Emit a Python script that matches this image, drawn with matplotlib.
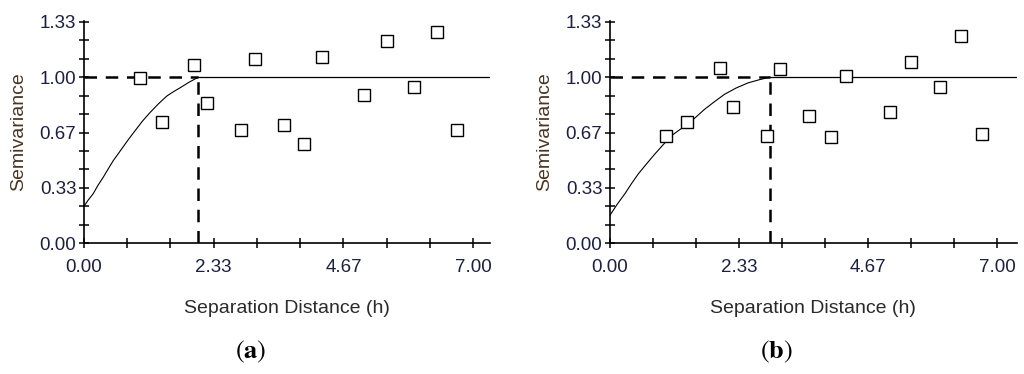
import numpy as np
import matplotlib
matplotlib.use("Agg")
import matplotlib.pyplot as plt
from matplotlib.ticker import FixedLocator

plt.rcParams['font.family'] = ['Liberation Sans', 'DejaVu Sans']
plt.rcParams['mathtext.fontset'] = 'stix'

# panel (a) data
a_h = [1.00, 1.41, 1.97, 2.21, 2.83, 3.07, 3.60, 3.96, 4.28, 5.03, 5.45, 5.93, 6.34, 6.70]
a_g = [0.997, 0.728, 1.071, 0.842, 0.682, 1.111, 0.712, 0.598, 1.119, 0.891, 1.216, 0.941, 1.274, 0.680]
a_curve_h = [0.0, 0.08, 0.167, 0.25, 0.347, 0.44, 0.527, 0.62, 0.707, 0.81, 0.917, 1.05,
             1.187, 1.34, 1.487, 1.61, 1.727, 1.89, 2.056]
a_curve_g = [0.223, 0.262, 0.299, 0.348, 0.398, 0.450, 0.498, 0.541, 0.582, 0.630, 0.677, 0.735,
             0.787, 0.840, 0.886, 0.913, 0.936, 0.970, 1.0]
a_range = 2.056
a_xmax = 7.31

# panel (b) data
b_h = [1.005, 1.40, 1.99, 2.23, 2.84, 3.08, 3.59, 3.99, 4.27, 5.06, 5.45, 5.96, 6.35, 6.72]
b_g = [0.645, 0.730, 1.056, 0.822, 0.649, 1.052, 0.766, 0.643, 1.008, 0.790, 1.092, 0.943, 1.250, 0.661]
b_curve_h = [0.0, 0.13, 0.271, 0.39, 0.512, 0.66, 0.812, 0.96, 1.108, 1.26, 1.41, 1.56,
             1.71, 1.89, 2.07, 2.28, 2.497, 2.70, 2.888]
b_curve_g = [0.169, 0.235, 0.299, 0.360, 0.418, 0.478, 0.538, 0.593, 0.647, 0.684, 0.717, 0.762,
             0.807, 0.853, 0.897, 0.935, 0.966, 0.985, 1.0]
b_range = 2.888
b_xmax = 7.35

sill = 1.0
xlabels = ['0.00', '2.33', '4.67', '7.00']
ylabels = ['0.00', '0.33', '0.67', '1.00', '1.33']

tick_col = '#1c2040'
ylab_col = '#4a3522'
xlab_col = '#2a2a2a'

fig = plt.figure(figsize=(10.24, 3.74), dpi=100)


def panel(rect, h, g, ch, cg, rng, xmax, tag):
    ax = fig.add_axes(rect)
    ax.plot(ch, cg, color='black', lw=0.8)
    ax.plot([rng, xmax], [sill, sill], color='black', lw=0.9)
    ax.plot([0, rng], [sill, sill], color='black', lw=1.8, dashes=(5, 3.5))
    ax.plot([rng, rng], [0, sill], color='black', lw=1.8, dashes=(5, 3.5))
    ax.plot(h, g, 's', ms=9, mfc='white', mec='black', mew=1.0, clip_on=False)
    ax.set_xlim(0, xmax)
    ax.set_ylim(0, 1.34)
    for s in ['top', 'right']:
        ax.spines[s].set_visible(False)
    for s in ['left', 'bottom']:
        ax.spines[s].set_linewidth(1.2)
    ax.xaxis.set_major_locator(FixedLocator([0, 7 / 3, 14 / 3, 7]))
    ax.xaxis.set_minor_locator(FixedLocator([7 / 9 * i for i in range(10)]))
    ax.yaxis.set_major_locator(FixedLocator([0, 1 / 3, 2 / 3, 1, 4 / 3]))
    ax.yaxis.set_minor_locator(FixedLocator([1 / 9 * i for i in range(13)]))
    ax.set_xticklabels(xlabels)
    ax.set_yticklabels(ylabels)
    ax.tick_params(which='both', direction='inout', length=7, width=1.1,
                   labelsize=13.5, labelcolor=tick_col)
    ax.tick_params(axis='x', pad=8)
    ax.tick_params(axis='y', pad=2)
    ax.set_xlabel('Separation Distance (h)', fontsize=14, color=xlab_col, labelpad=17)
    ax.set_ylabel('Semivariance', fontsize=14, color=ylab_col, labelpad=9)
    fig.text(rect[0] + rect[2] * 0.41, 0.058, r'$(\mathbf{' + tag + r'})$',
             fontsize=19, ha='center', va='center')
    return ax


panel([0.082, 0.3495, 0.397, 0.595], a_h, a_g, a_curve_h, a_curve_g, a_range, a_xmax, 'a')
panel([0.5957, 0.3495, 0.397, 0.595], b_h, b_g, b_curve_h, b_curve_g, b_range, b_xmax, 'b')

fig.savefig('out.png', dpi=100)
